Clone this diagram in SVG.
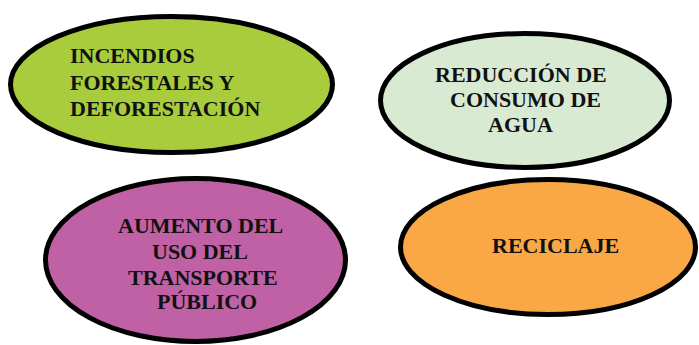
<svg xmlns="http://www.w3.org/2000/svg" width="699" height="345" viewBox="0 0 699 345">
<style>
.n{stroke:#000;stroke-width:5}
.t{font-family:'Liberation Serif','Times New Roman','DejaVu Serif',serif;font-weight:700;font-size:22px;fill:#111}
</style>
<rect width="699" height="345" fill="#fff"/>
<g id="connectors"></g>
<g id="node1">
<ellipse class="n" cx="171.5" cy="84.5" rx="161" ry="68" fill="#A8CC3C"/>
<text class="t" font-family="Liberation Serif, serif" x="70" y="63">INCENDIOS</text>
<text class="t" font-family="Liberation Serif, serif" x="70" y="90">FORESTALES Y</text>
<text class="t" font-family="Liberation Serif, serif" x="70" y="116">DEFORESTACIÓN</text>
</g>
<g id="node2">
<ellipse class="n" cx="525" cy="100.5" rx="144.5" ry="67" fill="#D9EAD3"/>
<text class="t" font-family="Liberation Serif, serif" x="435" y="82">REDUCCIÓN DE</text>
<text class="t" font-family="Liberation Serif, serif" x="450" y="107">CONSUMO DE</text>
<text class="t" font-family="Liberation Serif, serif" x="488" y="132">AGUA</text>
</g>
<g id="node3">
<ellipse class="n" cx="195.5" cy="260" rx="150" ry="81.5" fill="#C060A5"/>
<text class="t" font-family="Liberation Serif, serif" x="118" y="233">AUMENTO DEL</text>
<text class="t" font-family="Liberation Serif, serif" x="152" y="259">USO DEL</text>
<text class="t" font-family="Liberation Serif, serif" x="128" y="285">TRANSPORTE</text>
<text class="t" font-family="Liberation Serif, serif" x="157" y="309">PÚBLICO</text>
</g>
<g id="node4">
<ellipse class="n" cx="548" cy="247" rx="147.5" ry="67.5" fill="#F9A845"/>
<text class="t" font-family="Liberation Serif, serif" x="492" y="253">RECICLAJE</text>
</g>
</svg>
